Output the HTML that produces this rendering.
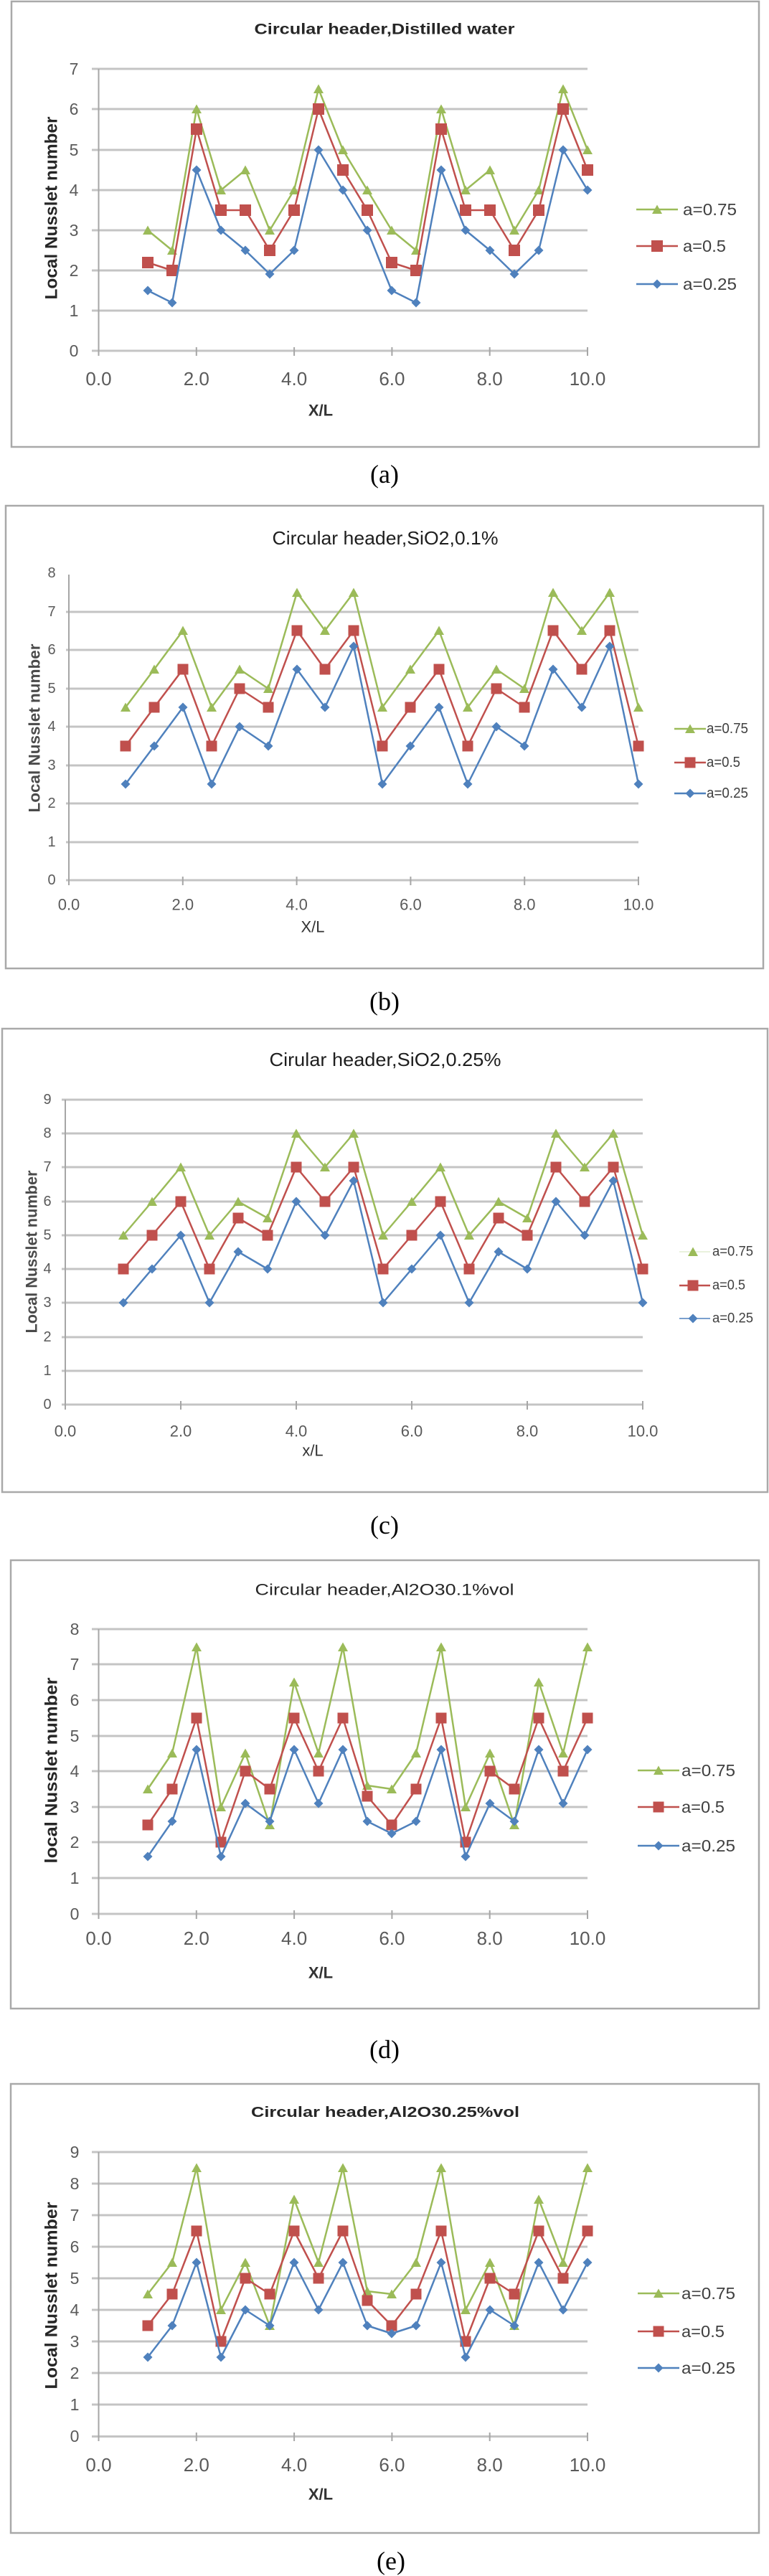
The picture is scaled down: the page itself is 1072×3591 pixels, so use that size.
<!DOCTYPE html>
<html>
<head>
<meta charset="utf-8">
<style>
html,body{margin:0;padding:0;background:#fff;}
svg{display:block;}
.fr{fill:#fff;stroke:#a9a9a9;stroke-width:2.5;}
.gr{stroke:#c4c4c4;stroke-width:3;fill:none;}
.ax{stroke:#a6a6a6;stroke-width:2;fill:none;}
.t{font-family:"Liberation Sans",sans-serif;dominant-baseline:central;}
.tk{fill:#5a5a5a;text-anchor:middle;}
.cap{font-family:"Liberation Serif",serif;font-size:36px;fill:#000;text-anchor:middle;dominant-baseline:central;}
.lg{fill:#404040;}
.sg{stroke:#9BBB59;stroke-width:2.5;fill:none;stroke-linejoin:round;}
.sr{stroke:#C0504D;stroke-width:2.5;fill:none;stroke-linejoin:round;}
.sb{stroke:#4F81BD;stroke-width:2.5;fill:none;stroke-linejoin:round;}
</style>
</head>
<body>
<svg width="1072" height="3591" viewBox="0 0 1072 3591" xmlns="http://www.w3.org/2000/svg">
<defs>
<marker id="mg" markerUnits="userSpaceOnUse" markerWidth="20" markerHeight="20" refX="10" refY="10" viewBox="0 0 20 20" overflow="visible"><path d="M10 3.5 L17 16 L3 16 Z" fill="#9BBB59"/></marker>
<marker id="mr" markerUnits="userSpaceOnUse" markerWidth="20" markerHeight="20" refX="10" refY="10" viewBox="0 0 20 20" overflow="visible"><rect x="2.5" y="2.5" width="15" height="15" fill="#C0504D"/></marker>
<marker id="mrb" markerUnits="userSpaceOnUse" markerWidth="20" markerHeight="20" refX="10" refY="10" viewBox="0 0 20 20" overflow="visible"><rect x="2" y="2" width="16" height="16" fill="#C0504D"/></marker>
<marker id="mb" markerUnits="userSpaceOnUse" markerWidth="20" markerHeight="20" refX="10" refY="10" viewBox="0 0 20 20" overflow="visible"><path d="M10 3.5 L16.5 10 L10 16.5 L3.5 10 Z" fill="#4F81BD"/></marker>
</defs>

<!-- ================= (a) ================= -->
<rect class="fr" x="16" y="2" width="1042" height="621"/>
<text class="t" x="536" y="41" text-anchor="middle" font-size="21" font-weight="bold" fill="#262626" textLength="363" lengthAdjust="spacingAndGlyphs">Circular header,Distilled water</text>
<path class="gr" d="M128 96H819M128 152H819M128 209H819M128 265H819M128 321H819M128 377H819M128 433H819M128 489H819"/>
<path class="ax" d="M137.5 96V495M137.5 484V496M273.8 484V496M410.1 484V496M546.4 484V496M682.7 484V496M819 484V496"/>
<g class="t tk" font-size="23">
<text x="103" y="96">7</text><text x="103" y="152">6</text><text x="103" y="209">5</text><text x="103" y="265">4</text><text x="103" y="321">3</text><text x="103" y="377">2</text><text x="103" y="433">1</text><text x="103" y="489">0</text>
</g>
<g class="t tk" font-size="26">
<text x="137.5" y="528">0.0</text><text x="273.8" y="528">2.0</text><text x="410.1" y="528">4.0</text><text x="546.4" y="528">6.0</text><text x="682.7" y="528">8.0</text><text x="819" y="528">10.0</text>
</g>
<text class="t" x="447" y="572" text-anchor="middle" font-size="22" font-weight="bold" fill="#333">X/L</text>
<text class="t" transform="translate(72,290) rotate(-90)" text-anchor="middle" font-size="24" font-weight="bold" fill="#262626" textLength="255" lengthAdjust="spacingAndGlyphs">Local Nusslet number</text>
<polyline class="sg" marker-start="url(#mg)" marker-mid="url(#mg)" marker-end="url(#mg)" points="206,321 240,349 274,152 308,265 342,237 376,321 410,265 444,124 478,209 512,265 546,321 580,349 615,152 649,265 683,237 717,321 751,265 785,124 819,209"/>
<polyline class="sr" marker-start="url(#mrb)" marker-mid="url(#mrb)" marker-end="url(#mrb)" points="206,366 240,377 274,180 308,293 342,293 376,349 410,293 444,152 478,237 512,293 546,366 580,377 615,180 649,293 683,293 717,349 751,293 785,152 819,237"/>
<polyline class="sb" marker-start="url(#mb)" marker-mid="url(#mb)" marker-end="url(#mb)" points="206,405 240,422 274,237 308,321 342,349 376,382 410,349 444,209 478,265 512,321 546,405 580,422 615,237 649,321 683,349 717,382 751,349 785,209 819,265"/>
<polyline class="sg" marker-mid="url(#mg)" points="887,292 916,292 945,292"/>
<polyline class="sr" marker-mid="url(#mrb)" points="887,343 916,343 945,343"/>
<polyline class="sb" marker-mid="url(#mb)" points="887,396 916,396 945,396"/>
<g class="t lg" font-size="23">
<text x="952" y="292" textLength="75" lengthAdjust="spacingAndGlyphs">a=0.75</text>
<text x="952" y="343" textLength="60" lengthAdjust="spacingAndGlyphs">a=0.5</text>
<text x="952" y="396" textLength="75" lengthAdjust="spacingAndGlyphs">a=0.25</text>
</g>
<text class="cap" x="536" y="661">(a)</text>

<!-- ================= (b) ================= -->
<rect class="fr" x="8" y="705" width="1056" height="645"/>
<text class="t" x="537" y="750" text-anchor="middle" font-size="26" fill="#1e1e1e" textLength="315" lengthAdjust="spacingAndGlyphs">Circular header,SiO2,0.1%</text>
<path class="gr" d="M92 853H890M92 906H890M92 960H890M92 1013H890M92 1067H890M92 1120H890M92 1174H890M92 1227H890"/>
<path class="ax" d="M96 801V1233M96 1222V1234M254.8 1222V1234M413.6 1222V1234M572.4 1222V1234M731.2 1222V1234M890 1222V1234"/>
<g class="t tk" font-size="20">
<text x="72" y="799">8</text><text x="72" y="853">7</text><text x="72" y="906">6</text><text x="72" y="960">5</text><text x="72" y="1013">4</text><text x="72" y="1067">3</text><text x="72" y="1120">2</text><text x="72" y="1174">1</text><text x="72" y="1227">0</text>
</g>
<g class="t tk" font-size="22">
<text x="96" y="1261">0.0</text><text x="254.8" y="1261">2.0</text><text x="413.6" y="1261">4.0</text><text x="572.4" y="1261">6.0</text><text x="731.2" y="1261">8.0</text><text x="890" y="1261">10.0</text>
</g>
<text class="t" x="436" y="1292" text-anchor="middle" font-size="22" fill="#333">X/L</text>
<text class="t" transform="translate(48,1015) rotate(-90)" text-anchor="middle" font-size="22" font-weight="bold" fill="#4a4a4a" textLength="235" lengthAdjust="spacingAndGlyphs">Local Nusslet number</text>
<polyline class="sg" marker-start="url(#mg)" marker-mid="url(#mg)" marker-end="url(#mg)" points="175,986 215,933 255,879 295,986 334,933 374,960 414,826 453,879 493,826 533,986 572,933 612,879 652,986 692,933 731,960 771,826 811,879 850,826 890,986"/>
<polyline class="sr" marker-start="url(#mr)" marker-mid="url(#mr)" marker-end="url(#mr)" points="175,1040 215,986 255,933 295,1040 334,960 374,986 414,879 453,933 493,879 533,1040 572,986 612,933 652,1040 692,960 731,986 771,879 811,933 850,879 890,1040"/>
<polyline class="sb" marker-start="url(#mb)" marker-mid="url(#mb)" marker-end="url(#mb)" points="175,1093 215,1040 255,986 295,1093 334,1013 374,1040 414,933 453,986 493,901 533,1093 572,1040 612,986 652,1093 692,1013 731,1040 771,933 811,986 850,901 890,1093"/>
<polyline class="sg" marker-mid="url(#mg)" points="940,1016 962,1016 984,1016"/>
<polyline class="sr" marker-mid="url(#mr)" points="940,1063 962,1063 984,1063"/>
<polyline class="sb" marker-mid="url(#mb)" points="940,1106 962,1106 984,1106"/>
<g class="t lg" font-size="20">
<text x="985" y="1016" textLength="58" lengthAdjust="spacingAndGlyphs">a=0.75</text>
<text x="985" y="1063" textLength="47" lengthAdjust="spacingAndGlyphs">a=0.5</text>
<text x="985" y="1106" textLength="58" lengthAdjust="spacingAndGlyphs">a=0.25</text>
</g>
<text class="cap" x="536" y="1396">(b)</text>

<!-- ================= (c) ================= -->
<rect class="fr" x="3" y="1434" width="1067" height="646"/>
<text class="t" x="537" y="1477" text-anchor="middle" font-size="26" fill="#1e1e1e" textLength="323" lengthAdjust="spacingAndGlyphs">Cirular header,SiO2,0.25%</text>
<path class="gr" d="M86 1533H896M86 1580H896M86 1627H896M86 1675H896M86 1722H896M86 1769H896M86 1816H896M86 1864H896M86 1911H896M86 1958H896"/>
<path class="ax" d="M91 1533V1964M91 1953V1965M252 1953V1965M413 1953V1965M574 1953V1965M735 1953V1965M896 1953V1965"/>
<g class="t tk" font-size="20">
<text x="66" y="1533">9</text><text x="66" y="1580">8</text><text x="66" y="1627">7</text><text x="66" y="1675">6</text><text x="66" y="1722">5</text><text x="66" y="1769">4</text><text x="66" y="1816">3</text><text x="66" y="1864">2</text><text x="66" y="1911">1</text><text x="66" y="1958">0</text>
</g>
<g class="t tk" font-size="22">
<text x="91" y="1995">0.0</text><text x="252" y="1995">2.0</text><text x="413" y="1995">4.0</text><text x="574" y="1995">6.0</text><text x="735" y="1995">8.0</text><text x="896" y="1995">10.0</text>
</g>
<text class="t" x="436" y="2022" text-anchor="middle" font-size="22" fill="#333">x/L</text>
<text class="t" transform="translate(44,1745) rotate(-90)" text-anchor="middle" font-size="22" font-weight="bold" fill="#4a4a4a" textLength="227" lengthAdjust="spacingAndGlyphs">Local Nusslet number</text>
<polyline class="sg" marker-start="url(#mg)" marker-mid="url(#mg)" marker-end="url(#mg)" points="172,1722 212,1675 252,1627 292,1722 332,1675 373,1698 413,1580 453,1627 493,1580 534,1722 574,1675 614,1627 654,1722 695,1675 735,1698 775,1580 815,1627 855,1580 896,1722"/>
<polyline class="sr" marker-start="url(#mr)" marker-mid="url(#mr)" marker-end="url(#mr)" points="172,1769 212,1722 252,1675 292,1769 332,1698 373,1722 413,1627 453,1675 493,1627 534,1769 574,1722 614,1675 654,1769 695,1698 735,1722 775,1627 815,1675 855,1627 896,1769"/>
<polyline class="sb" marker-start="url(#mb)" marker-mid="url(#mb)" marker-end="url(#mb)" points="172,1816 212,1769 252,1722 292,1816 332,1745 373,1769 413,1675 453,1722 493,1646 534,1816 574,1769 614,1722 654,1816 695,1745 735,1769 775,1675 815,1722 855,1646 896,1816"/>
<polyline stroke="#e4edd2" stroke-width="1.5" fill="none" marker-mid="url(#mg)" points="947,1745 966,1745 990,1745"/>
<polyline class="sr" marker-mid="url(#mr)" points="947,1792 966,1792 990,1792"/>
<polyline stroke="#4F81BD" stroke-width="1.5" fill="none" marker-mid="url(#mb)" points="947,1838 966,1838 990,1838"/>
<g class="t lg" font-size="19">
<text x="993" y="1745" textLength="57" lengthAdjust="spacingAndGlyphs">a=0.75</text>
<text x="993" y="1792" textLength="46" lengthAdjust="spacingAndGlyphs">a=0.5</text>
<text x="993" y="1838" textLength="57" lengthAdjust="spacingAndGlyphs">a=0.25</text>
</g>
<text class="cap" x="536" y="2126">(c)</text>

<!-- ================= (d) ================= -->
<rect class="fr" x="15" y="2175" width="1043" height="625"/>
<text class="t" x="536" y="2216" text-anchor="middle" font-size="22" fill="#262626" textLength="361" lengthAdjust="spacingAndGlyphs">Circular header,Al2O30.1%vol</text>
<path class="gr" d="M128 2271H819M128 2320H819M128 2370H819M128 2420H819M128 2469H819M128 2519H819M128 2568H819M128 2618H819M128 2668H819"/>
<path class="ax" d="M137.5 2271V2674M137.5 2663V2675M273.8 2663V2675M410.1 2663V2675M546.4 2663V2675M682.7 2663V2675M819 2663V2675"/>
<g class="t tk" font-size="23">
<text x="104" y="2271">8</text><text x="104" y="2320">7</text><text x="104" y="2370">6</text><text x="104" y="2420">5</text><text x="104" y="2469">4</text><text x="104" y="2519">3</text><text x="104" y="2568">2</text><text x="104" y="2618">1</text><text x="104" y="2668">0</text>
</g>
<g class="t tk" font-size="26">
<text x="137.5" y="2702">0.0</text><text x="273.8" y="2702">2.0</text><text x="410.1" y="2702">4.0</text><text x="546.4" y="2702">6.0</text><text x="682.7" y="2702">8.0</text><text x="819" y="2702">10.0</text>
</g>
<text class="t" x="447" y="2750" text-anchor="middle" font-size="22" font-weight="bold" fill="#333">X/L</text>
<text class="t" transform="translate(72,2468) rotate(-90)" text-anchor="middle" font-size="24" font-weight="bold" fill="#262626" textLength="259" lengthAdjust="spacingAndGlyphs">local  Nusslet number</text>
<polyline class="sg" marker-start="url(#mg)" marker-mid="url(#mg)" marker-end="url(#mg)" points="206,2494 240,2444 274,2296 308,2519 342,2444 376,2544 410,2345 444,2444 478,2296 512,2489 546,2494 580,2444 615,2296 649,2519 683,2444 717,2544 751,2345 785,2444 819,2296"/>
<polyline class="sr" marker-start="url(#mr)" marker-mid="url(#mr)" marker-end="url(#mr)" points="206,2544 240,2494 274,2395 308,2568 342,2469 376,2494 410,2395 444,2469 478,2395 512,2504 546,2544 580,2494 615,2395 649,2568 683,2469 717,2494 751,2395 785,2469 819,2395"/>
<polyline class="sb" marker-start="url(#mb)" marker-mid="url(#mb)" marker-end="url(#mb)" points="206,2588 240,2539 274,2439 308,2588 342,2514 376,2539 410,2439 444,2514 478,2439 512,2539 546,2556 580,2539 615,2439 649,2588 683,2514 717,2539 751,2439 785,2514 819,2439"/>
<polyline class="sg" marker-mid="url(#mg)" points="889,2468 918,2468 947,2468"/>
<polyline class="sr" marker-mid="url(#mr)" points="889,2519 918,2519 947,2519"/>
<polyline class="sb" marker-mid="url(#mb)" points="889,2573 918,2573 947,2573"/>
<g class="t lg" font-size="23">
<text x="950" y="2468" textLength="75" lengthAdjust="spacingAndGlyphs">a=0.75</text>
<text x="950" y="2519" textLength="60" lengthAdjust="spacingAndGlyphs">a=0.5</text>
<text x="950" y="2573" textLength="75" lengthAdjust="spacingAndGlyphs">a=0.25</text>
</g>
<text class="cap" x="536" y="2857">(d)</text>

<!-- ================= (e) ================= -->
<rect class="fr" x="15" y="2905" width="1043" height="626"/>
<text class="t" x="537" y="2945" text-anchor="middle" font-size="20" font-weight="bold" fill="#262626" textLength="374" lengthAdjust="spacingAndGlyphs">Circular header,Al2O30.25%vol</text>
<path class="gr" d="M128 3000H819M128 3044H819M128 3088H819M128 3132H819M128 3176H819M128 3220H819M128 3264H819M128 3308H819M128 3352H819M128 3396.5H819"/>
<path class="ax" d="M137.5 3000V3402M137.5 3391V3403M273.8 3391V3403M410.1 3391V3403M546.4 3391V3403M682.7 3391V3403M819 3391V3403"/>
<g class="t tk" font-size="23">
<text x="104" y="3000">9</text><text x="104" y="3044">8</text><text x="104" y="3088">7</text><text x="104" y="3132">6</text><text x="104" y="3176">5</text><text x="104" y="3220">4</text><text x="104" y="3264">3</text><text x="104" y="3308">2</text><text x="104" y="3352">1</text><text x="104" y="3396">0</text>
</g>
<g class="t tk" font-size="26">
<text x="137.5" y="3436">0.0</text><text x="273.8" y="3436">2.0</text><text x="410.1" y="3436">4.0</text><text x="546.4" y="3436">6.0</text><text x="682.7" y="3436">8.0</text><text x="819" y="3436">10.0</text>
</g>
<text class="t" x="447" y="3477" text-anchor="middle" font-size="22" font-weight="bold" fill="#333">X/L</text>
<text class="t" transform="translate(72,3200) rotate(-90)" text-anchor="middle" font-size="24" font-weight="bold" fill="#262626" textLength="261" lengthAdjust="spacingAndGlyphs">Local  Nusslet number</text>
<polyline class="sg" marker-start="url(#mg)" marker-mid="url(#mg)" marker-end="url(#mg)" points="206,3198 240,3154 274,3022 308,3220 342,3154 376,3242 410,3066 444,3154 478,3022 512,3194 546,3198 580,3154 615,3022 649,3220 683,3154 717,3242 751,3066 785,3154 819,3022"/>
<polyline class="sr" marker-start="url(#mr)" marker-mid="url(#mr)" marker-end="url(#mr)" points="206,3242 240,3198 274,3110 308,3264 342,3176 376,3198 410,3110 444,3176 478,3110 512,3207 546,3242 580,3198 615,3110 649,3264 683,3176 717,3198 751,3110 785,3176 819,3110"/>
<polyline class="sb" marker-start="url(#mb)" marker-mid="url(#mb)" marker-end="url(#mb)" points="206,3286 240,3242 274,3154 308,3286 342,3220 376,3242 410,3154 444,3220 478,3154 512,3242 546,3253 580,3242 615,3154 649,3286 683,3220 717,3242 751,3154 785,3220 819,3154"/>
<polyline class="sg" marker-mid="url(#mg)" points="889,3197 918,3197 947,3197"/>
<polyline class="sr" marker-mid="url(#mr)" points="889,3250 918,3250 947,3250"/>
<polyline class="sb" marker-mid="url(#mb)" points="889,3301 918,3301 947,3301"/>
<g class="t lg" font-size="23">
<text x="950" y="3197" textLength="75" lengthAdjust="spacingAndGlyphs">a=0.75</text>
<text x="950" y="3250" textLength="60" lengthAdjust="spacingAndGlyphs">a=0.5</text>
<text x="950" y="3301" textLength="75" lengthAdjust="spacingAndGlyphs">a=0.25</text>
</g>
<text class="cap" x="545" y="3570">(e)</text>
</svg>
</body>
</html>
